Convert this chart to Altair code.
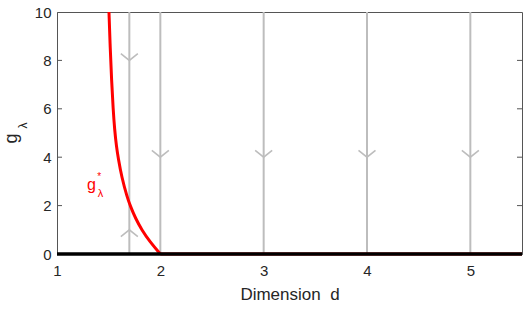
import altair as alt
import pandas as pd

# red fixed-point curve g*_lambda(d)
d_star = [1.503, 1.515, 1.528, 1.543, 1.558, 1.575, 1.593, 1.626, 1.678, 1.71, 1.76, 1.82, 1.90, 2.0]
g_star = [10.0, 8.5, 7.2, 6.0, 5.12, 4.45, 3.95, 3.18, 2.36, 1.98, 1.47, 1.0, 0.5, 0.0]
# red curve continues on g = 0 beyond d = 2
d_tail = [2.0, 5.5]
g_tail = [0.0, 0.0]

# gray flow lines
d_flow = [1.7, 2, 3, 4, 5]
# flow arrows (down-pointing and up-pointing)
down_d = [1.7, 2, 3, 4, 5]
down_g = [8.0, 4.0, 4.0, 4.0, 4.0]
up_d = [1.7]
up_g = [1.0]

# trivial fixed point line
d_zero = [1.0, 5.5]
g_zero = [0.0, 0.0]

x_ticks = [1, 2, 3, 4, 5]
y_ticks = [0, 2, 4, 6, 8, 10]
inner_ticks = [2, 4, 6, 8]

FONT = "Liberation Sans"
GRAY = "#bdbdbd"
FRAME = "#555555"

xs = alt.Scale(domain=[1, 5.5], nice=False, zero=False)
ys = alt.Scale(domain=[0, 10], nice=False)


def xy(df):
    return alt.Chart(df).encode(x=alt.X("d:Q", scale=xs), y=alt.Y("g:Q", scale=ys))


star_df = pd.DataFrame({"d": d_star, "g": g_star})
tail_df = pd.DataFrame({"d": d_tail, "g": g_tail})
flow_df = pd.DataFrame({"d": d_flow, "g0": [0] * len(d_flow), "g1": [10] * len(d_flow)})
down_df = pd.DataFrame({"d": down_d, "g": down_g})
up_df = pd.DataFrame({"d": up_d, "g": up_g})
zero_df = pd.DataFrame({"d": d_zero, "g": g_zero})
lt_df = pd.DataFrame({"d": [1.0] * len(inner_ticks), "g": inner_ticks})
rt_df = pd.DataFrame({"d": [5.5] * len(inner_ticks), "g": inner_ticks})

X = alt.X("d:Q", scale=xs,
          axis=alt.Axis(values=x_ticks, format="d", tickSize=0, labelPadding=9, title="Dimension\u00a0\u00a0d",
                        titleFontSize=17, titleFontWeight="normal", titlePadding=8,
                        domainColor=FRAME, grid=False, labelFlush=False))
Y = alt.Y("g:Q", scale=ys,
          axis=alt.Axis(values=y_ticks, format="d", tickSize=0, labelPadding=6, title=None,
                        domainColor=FRAME, grid=False, labelFlush=False))

flow = alt.Chart(flow_df).mark_rule(color=GRAY, strokeWidth=2).encode(
    x=alt.X("d:Q", scale=xs), y=alt.Y("g0:Q", scale=ys), y2="g1:Q")

arr_down = xy(down_df).mark_point(shape="M-1,-0.8L0,0L1,-0.8", filled=False, size=289,
                                  strokeWidth=1.6, color=GRAY, opacity=1)
arr_up = xy(up_df).mark_point(shape="M-1,0.8L0,0L1,0.8", filled=False, size=289,
                              strokeWidth=1.6, color=GRAY, opacity=1)

red = alt.Chart(star_df).mark_line(color="#ff0000", strokeWidth=3, interpolate="basis").encode(x=X, y=Y)
red_tail = xy(tail_df).mark_line(color="#ff0000", strokeWidth=3)

black = xy(zero_df).mark_line(color="black", strokeWidth=3.5)

ticks_l = xy(lt_df).mark_point(shape="M0,0L1,0", filled=False, size=100, strokeWidth=1,
                               color=FRAME, opacity=1)
ticks_r = xy(rt_df).mark_point(shape="M0,0L-1,0", filled=False, size=100, strokeWidth=1,
                               color=FRAME, opacity=1)

lab_g = alt.Chart(pd.DataFrame({"d": [1.29], "g": [2.64], "t": ["g"]})).mark_text(
    color="#ff0000", font=FONT, fontSize=16, align="left", baseline="alphabetic").encode(
    x=alt.X("d:Q", scale=xs), y=alt.Y("g:Q", scale=ys), text="t:N")
lab_l = alt.Chart(pd.DataFrame({"d": [1.395], "g": [2.36], "t": ["λ"]})).mark_text(
    color="#ff0000", font=FONT, fontSize=11, align="left", baseline="alphabetic").encode(
    x=alt.X("d:Q", scale=xs), y=alt.Y("g:Q", scale=ys), text="t:N")
lab_s = alt.Chart(pd.DataFrame({"d": [1.39], "g": [3.06], "t": ["*"]})).mark_text(
    color="#ff0000", font=FONT, fontSize=10, align="left", baseline="alphabetic").encode(
    x=alt.X("d:Q", scale=xs), y=alt.Y("g:Q", scale=ys), text="t:N")

yt_g = alt.Chart(pd.DataFrame({"t": ["g"]})).mark_text(
    color="#262626", font=FONT, fontSize=18, angle=270, align="center", baseline="alphabetic").encode(
    x=alt.value(-40), y=alt.value(126.5), text="t:N")
yt_l = alt.Chart(pd.DataFrame({"t": ["λ"]})).mark_text(
    color="#262626", font=FONT, fontSize=12, angle=270, align="center", baseline="alphabetic").encode(
    x=alt.value(-30), y=alt.value(113.5), text="t:N")

chart = alt.layer(flow, arr_down, arr_up, red, red_tail, black, ticks_l, ticks_r,
                  lab_g, lab_l, lab_s, yt_g, yt_l).properties(
    width=465, height=242,
    autosize=alt.AutoSizeParams(type="none"),
    padding={"left": 57, "top": 12, "right": 6, "bottom": 55},
    background="white",
).configure_view(stroke=FRAME, strokeWidth=1).configure_axis(
    labelFont=FONT, titleFont=FONT, labelFontSize=15, labelColor="#262626", titleColor="#262626"
)

chart.save("out.html", embed_options={"renderer": "svg", "actions": False})
